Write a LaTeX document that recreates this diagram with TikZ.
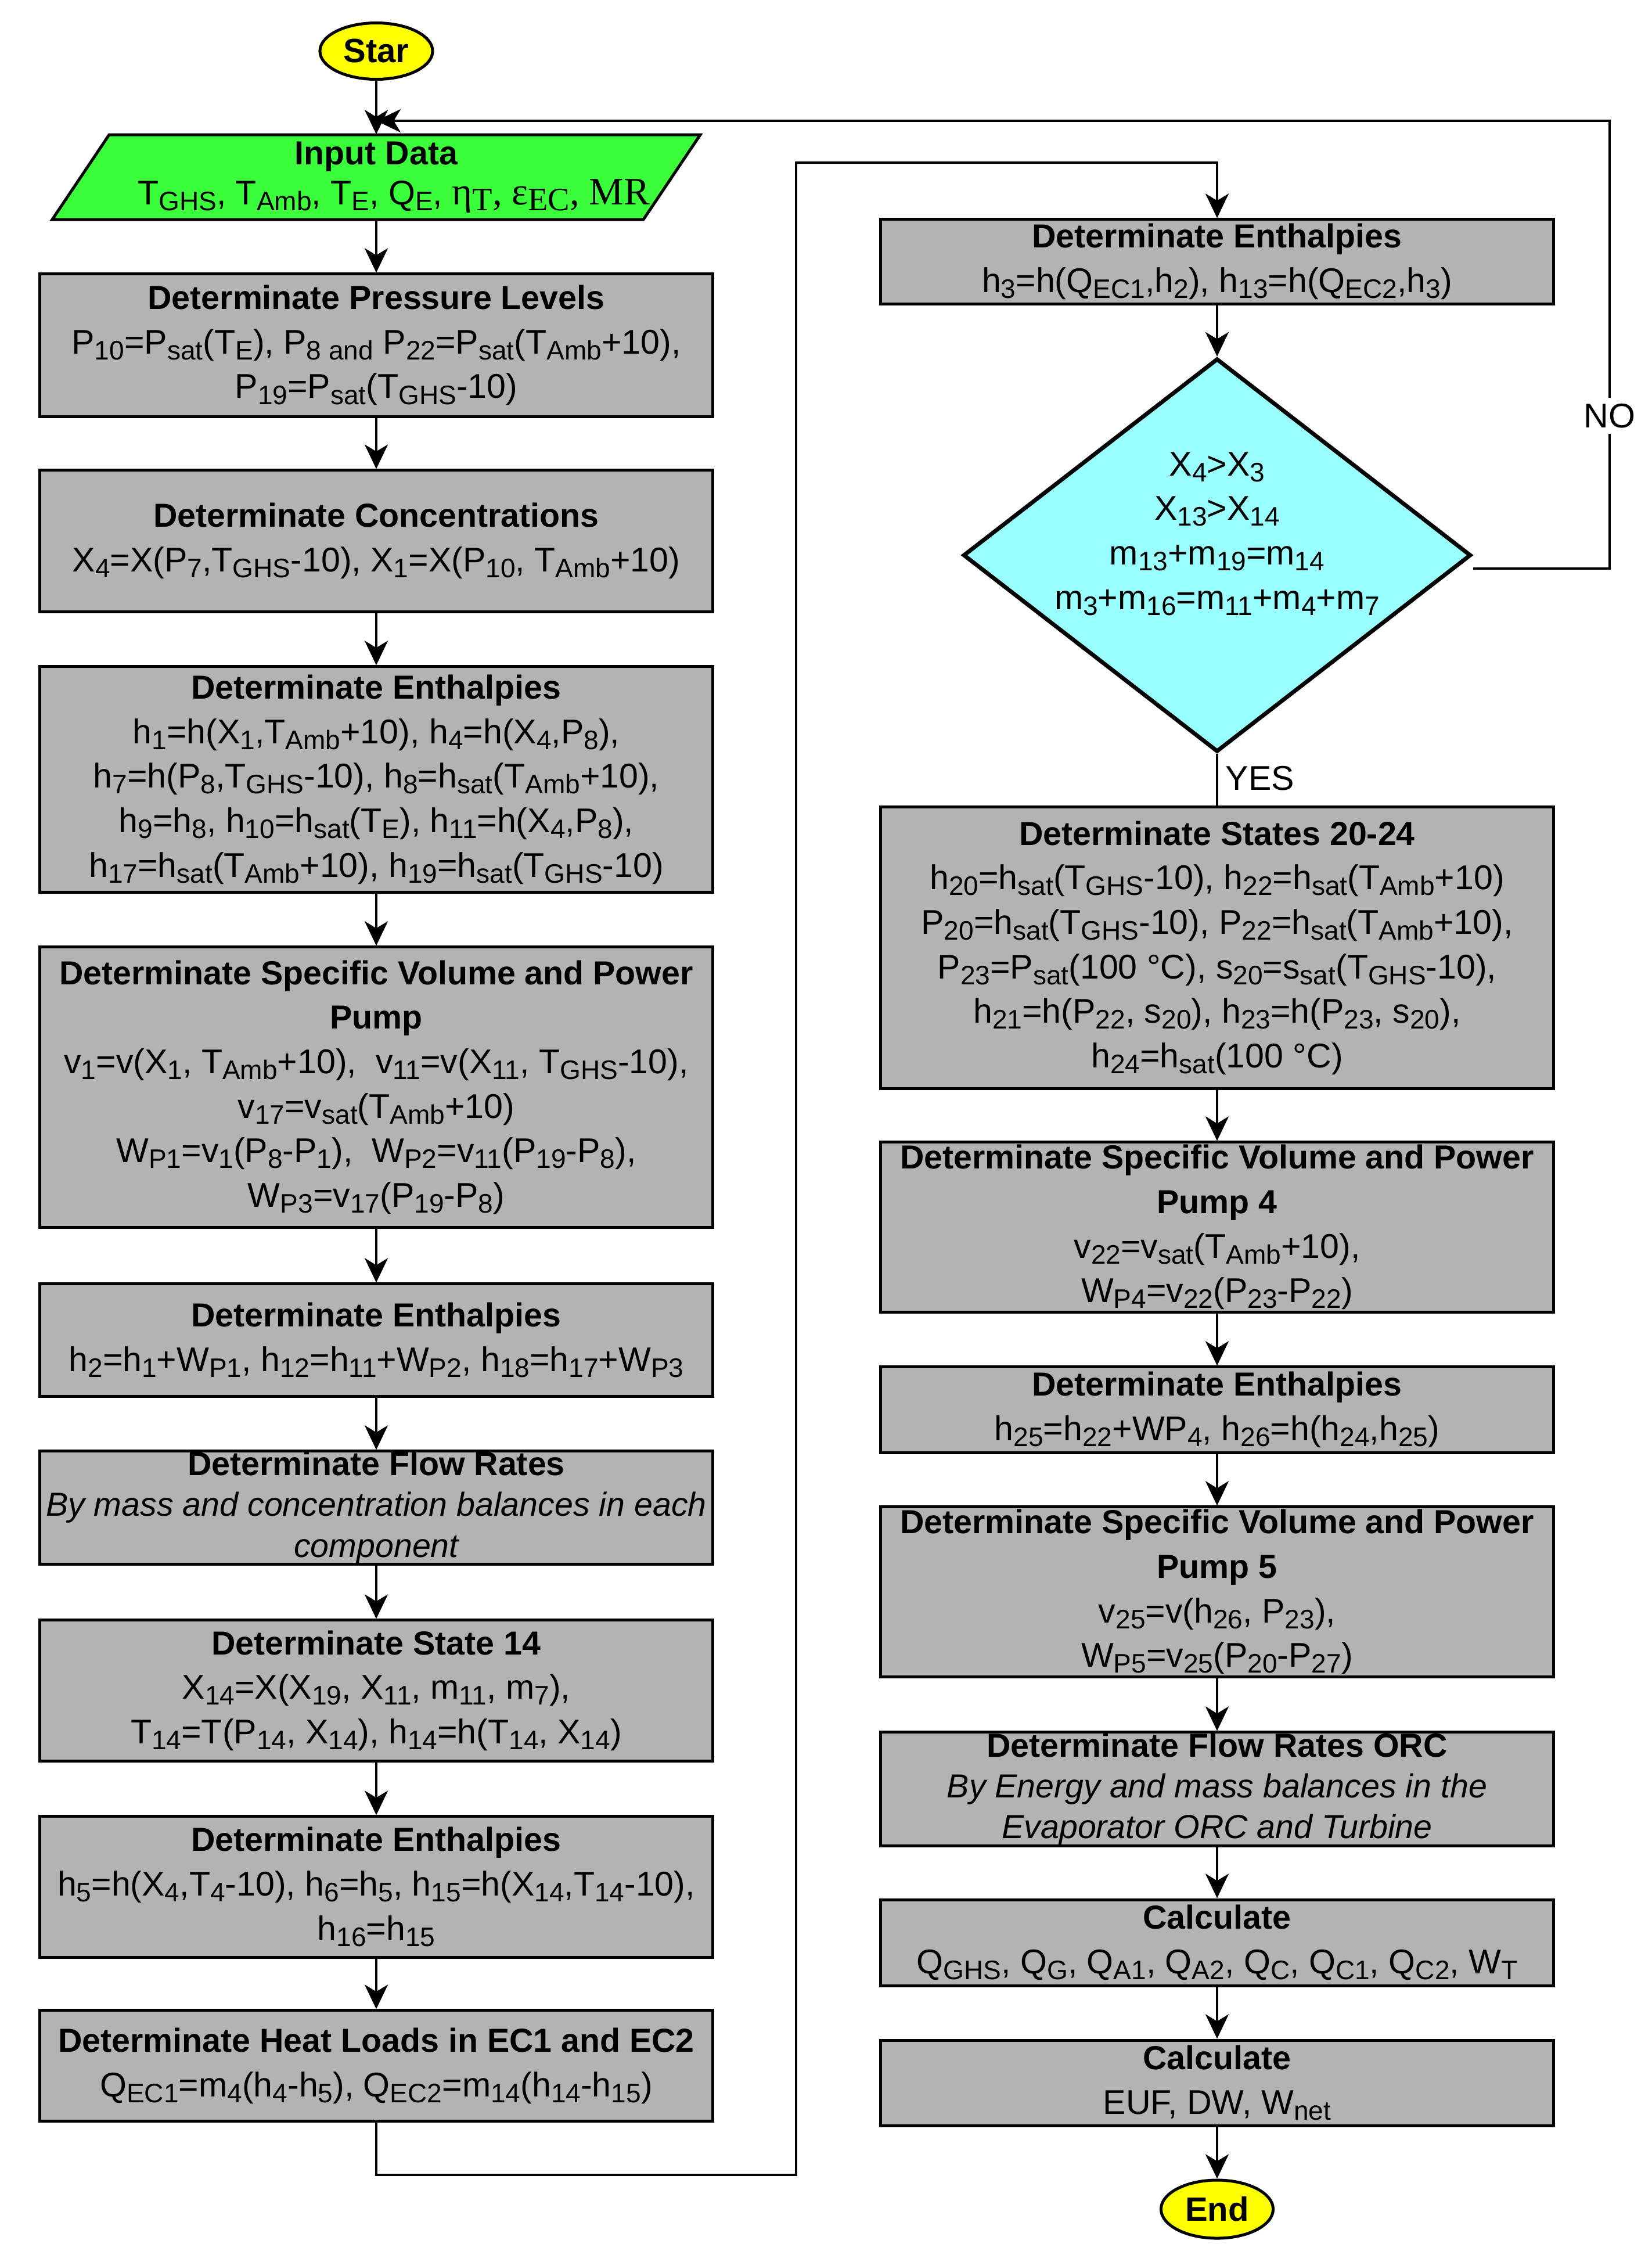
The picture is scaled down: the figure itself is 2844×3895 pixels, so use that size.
\documentclass[tikz,border=0pt]{standalone}
\usepackage{fontspec}
\setmainfont{Liberation Sans}
\newfontfamily\serifgr{Liberation Serif}
\usetikzlibrary{arrows.meta,shapes.geometric,calc}
\definecolor{boxgray}{RGB}{179,179,179}
\definecolor{ingreen}{RGB}{58,255,58}
\definecolor{diacyan}{RGB}{153,255,255}
\definecolor{termyellow}{RGB}{255,255,0}
\newcommand{\sbx}[1]{\raisebox{-2.9pt}{\fontsize{13.1pt}{13.1pt}\selectfont #1}}
\newcommand{\sbs}[1]{\raisebox{-3pt}{\fontsize{16pt}{16pt}\selectfont #1}}
\newcommand{\ttl}[1]{{\fontsize{16.3pt}{16.3pt}\selectfont\bfseries #1}}
\begin{document}
\begin{tikzpicture}[x=0.01cm,y=-0.01cm,
  every node/.style={font=\fontsize{16.8pt}{21.8pt}\selectfont},
  procbox/.style={draw=black, line width=0.05cm, fill=boxgray, minimum width=11.59cm, inner sep=0pt, align=center},
  term/.style={ellipse, draw=black, line width=0.05cm, fill=termyellow, inner sep=0pt, font=\fontsize{16.5pt}{20pt}\selectfont\bfseries},
  decision/.style={diamond, draw=black, line width=0.07cm, fill=diacyan, inner sep=0pt, minimum width=8.74cm, minimum height=6.77cm},
  conn/.style={line width=0.04cm},
  arr/.style={conn, -{Stealth[length=0.42cm, width=0.4cm, inset=0.12cm]}},
  tight/.style={font=\fontsize{16.8pt}{20pt}\selectfont}
]
\fill[white] (0,0) rectangle (2844,3895);
\useasboundingbox (0,0) rectangle (2844,3895);

% ---------- left column ----------
\node[term, minimum width=1.94cm, minimum height=0.97cm] (start) at (648,88) {Star};

\filldraw[fill=ingreen, draw=black, line width=0.05cm] (188,232) -- (1206,232) -- (1108,378) -- (90,378) -- cycle;
\node[inner sep=0pt, minimum width=10.18cm, minimum height=1.46cm, align=center,
      font=\fontsize{16.8pt}{19.6pt}\selectfont] (inp) at (648,305)
  {\ttl{Input Data}\\ \hspace*{0.6cm}T\sbx{GHS}, T\sbx{Amb}, T\sbx{E}, Q\sbx{E}, {\serifgr\fontsize{19pt}{19.6pt}\selectfont η\sbs{T}, ε\sbs{EC}, MR}};

\node[procbox, minimum height=2.45cm] (b1) at (648,594.5)
  {\ttl{Determinate Pressure Levels}\\
   P\sbx{10}=P\sbx{sat}(T\sbx{E}), P\sbx{8 and} P\sbx{22}=P\sbx{sat}(T\sbx{Amb}+10),\\
   P\sbx{19}=P\sbx{sat}(T\sbx{GHS}-10)};

\node[procbox, minimum height=2.43cm] (b2) at (648,931.5)
  {\ttl{Determinate Concentrations}\\
   X\sbx{4}=X(P\sbx{7},T\sbx{GHS}-10), X\sbx{1}=X(P\sbx{10}, T\sbx{Amb}+10)};

\node[procbox, minimum height=3.88cm] (b3) at (648,1342)
  {\ttl{Determinate Enthalpies}\\
   h\sbx{1}=h(X\sbx{1},T\sbx{Amb}+10), h\sbx{4}=h(X\sbx{4},P\sbx{8}),\\
   h\sbx{7}=h(P\sbx{8},T\sbx{GHS}-10), h\sbx{8}=h\sbx{sat}(T\sbx{Amb}+10),\\
   h\sbx{9}=h\sbx{8}, h\sbx{10}=h\sbx{sat}(T\sbx{E}), h\sbx{11}=h(X\sbx{4},P\sbx{8}),\\
   h\sbx{17}=h\sbx{sat}(T\sbx{Amb}+10), h\sbx{19}=h\sbx{sat}(T\sbx{GHS}-10)};

\node[procbox, minimum height=4.82cm] (b4) at (648,1872)
  {\ttl{Determinate Specific Volume and Power}\\
   \ttl{Pump}\\
   v\sbx{1}=v(X\sbx{1}, T\sbx{Amb}+10),\ \ v\sbx{11}=v(X\sbx{11}, T\sbx{GHS}-10),\\
   v\sbx{17}=v\sbx{sat}(T\sbx{Amb}+10)\\
   W\sbx{P1}=v\sbx{1}(P\sbx{8}-P\sbx{1}),\ \ W\sbx{P2}=v\sbx{11}(P\sbx{19}-P\sbx{8}),\\
   W\sbx{P3}=v\sbx{17}(P\sbx{19}-P\sbx{8})};

\node[procbox, minimum height=1.93cm] (b5) at (648,2307.5)
  {\ttl{Determinate Enthalpies}\\
   h\sbx{2}=h\sbx{1}+W\sbx{P1}, h\sbx{12}=h\sbx{11}+W\sbx{P2}, h\sbx{18}=h\sbx{17}+W\sbx{P3}};

\node[procbox, tight, minimum height=1.94cm] (b6) at (648,2596)
  {\ttl{Determinate Flow Rates}\\
   {\fontsize{16.3pt}{16.3pt}\selectfont\itshape By mass and concentration balances in each}\\
   {\fontsize{16.3pt}{16.3pt}\selectfont\itshape component}};

\node[procbox, minimum height=2.42cm] (b7) at (648,2911)
  {\ttl{Determinate State 14}\\
   X\sbx{14}=X(X\sbx{19}, X\sbx{11}, m\sbx{11}, m\sbx{7}),\\
   T\sbx{14}=T(P\sbx{14}, X\sbx{14}), h\sbx{14}=h(T\sbx{14}, X\sbx{14})};

\node[procbox, minimum height=2.42cm] (b8) at (648,3249)
  {\ttl{Determinate Enthalpies}\\
   h\sbx{5}=h(X\sbx{4},T\sbx{4}-10), h\sbx{6}=h\sbx{5}, h\sbx{15}=h(X\sbx{14},T\sbx{14}-10),\\
   h\sbx{16}=h\sbx{15}};

\node[procbox, minimum height=1.90cm] (b9) at (648,3557)
  {\ttl{Determinate Heat Loads in EC1 and EC2}\\
   Q\sbx{EC1}=m\sbx{4}(h\sbx{4}-h\sbx{5}), Q\sbx{EC2}=m\sbx{14}(h\sbx{14}-h\sbx{15})};

% ---------- right column ----------
\node[procbox, minimum height=1.45cm] (r1) at (2096,450.5)
  {\ttl{Determinate Enthalpies}\\
   h\sbx{3}=h(Q\sbx{EC1},h\sbx{2}), h\sbx{13}=h(Q\sbx{EC2},h\sbx{3})};

\node[decision] (dec) at (2096,956) {};
\node[align=center, inner sep=0pt] (dect) at (2096,919)
  {X\sbx{4}>X\sbx{3}\\
   X\sbx{13}>X\sbx{14}\\
   m\sbx{13}+m\sbx{19}=m\sbx{14}\\
   m\sbx{3}+m\sbx{16}=m\sbx{11}+m\sbx{4}+m\sbx{7}};

\node[procbox, minimum height=4.84cm] (r2) at (2096,1632)
  {\ttl{Determinate States 20-24}\\
   h\sbx{20}=h\sbx{sat}(T\sbx{GHS}-10), h\sbx{22}=h\sbx{sat}(T\sbx{Amb}+10)\\
   P\sbx{20}=h\sbx{sat}(T\sbx{GHS}-10), P\sbx{22}=h\sbx{sat}(T\sbx{Amb}+10),\\
   P\sbx{23}=P\sbx{sat}(100 °C), s\sbx{20}=s\sbx{sat}(T\sbx{GHS}-10),\\
   h\sbx{21}=h(P\sbx{22}, s\sbx{20}), h\sbx{23}=h(P\sbx{23}, s\sbx{20}),\\
   h\sbx{24}=h\sbx{sat}(100 °C)};

\node[procbox, minimum height=2.92cm] (r3) at (2096,2113)
  {\ttl{Determinate Specific Volume and Power}\\
   \ttl{Pump 4}\\
   v\sbx{22}=v\sbx{sat}(T\sbx{Amb}+10),\\
   W\sbx{P4}=v\sbx{22}(P\sbx{23}-P\sbx{22})};

\node[procbox, minimum height=1.47cm] (r4) at (2096,2427.5)
  {\ttl{Determinate Enthalpies}\\
   h\sbx{25}=h\sbx{22}+WP\sbx{4}, h\sbx{26}=h(h\sbx{24},h\sbx{25})};

\node[procbox, minimum height=2.92cm] (r5) at (2096,2741)
  {\ttl{Determinate Specific Volume and Power}\\
   \ttl{Pump 5}\\
   v\sbx{25}=v(h\sbx{26}, P\sbx{23}),\\
   W\sbx{P5}=v\sbx{25}(P\sbx{20}-P\sbx{27})};

\node[procbox, tight, minimum height=1.95cm] (r6) at (2096,3080.5)
  {\ttl{Determinate Flow Rates ORC}\\
   {\fontsize{16.3pt}{16.3pt}\selectfont\itshape By Energy and mass balances in the}\\
   {\fontsize{16.3pt}{16.3pt}\selectfont\itshape Evaporator ORC and Turbine}};

\node[procbox, minimum height=1.48cm] (r7) at (2096,3345)
  {\ttl{Calculate}\\
   Q\sbx{GHS}, Q\sbx{G}, Q\sbx{A1}, Q\sbx{A2}, Q\sbx{C}, Q\sbx{C1}, Q\sbx{C2}, W\sbx{T}};

\node[procbox, minimum height=1.47cm] (r8) at (2096,3586.5)
  {\ttl{Calculate}\\
   EUF, DW, W\sbx{net}};

\node[term, minimum width=1.93cm, minimum height=1.00cm] (end) at (2096,3804) {End};

% ---------- labels ----------
\node[anchor=west, inner sep=0pt] (yes) at (2110,1340) {YES};

% ---------- helper coordinates ----------
\coordinate (merge) at (648,208);
\coordinate (noA) at (2772,208);
\coordinate (loopA) at (1371,3745);
\coordinate (loopB) at (1371,280);

% ---------- connectors ----------
\draw[arr] (start.south) -- (inp.north);
\draw[arr] (inp.south) -- (b1.north);
\draw[arr] (b1.south) -- (b2.north);
\draw[arr] (b2.south) -- (b3.north);
\draw[arr] (b3.south) -- (b4.north);
\draw[arr] (b4.south) -- (b5.north);
\draw[arr] (b5.south) -- (b6.north);
\draw[arr] (b6.south) -- (b7.north);
\draw[arr] (b7.south) -- (b8.north);
\draw[arr] (b8.south) -- (b9.north);
\draw[arr] (b9.south) |- (loopA) -- (loopB) -| (r1.north);
\draw[arr] (r1.south) -- (dec.north);
\draw[conn] (dec.south) -- (r2.north);
\draw[arr] (r2.south) -- (r3.north);
\draw[arr] (r3.south) -- (r4.north);
\draw[arr] (r4.south) -- (r5.north);
\draw[arr] (r5.south) -- (r6.north);
\draw[arr] (r6.south) -- (r7.north);
\draw[arr] (r7.south) -- (r8.north);
\draw[arr] (r8.south) -- (end.north);
\draw[arr] ([yshift=-0.23cm]dec.east) -| (noA) -- (merge);

\node[fill=white, inner sep=0.1cm] (no) at (2772,716) {NO};
\end{tikzpicture}
\end{document}
